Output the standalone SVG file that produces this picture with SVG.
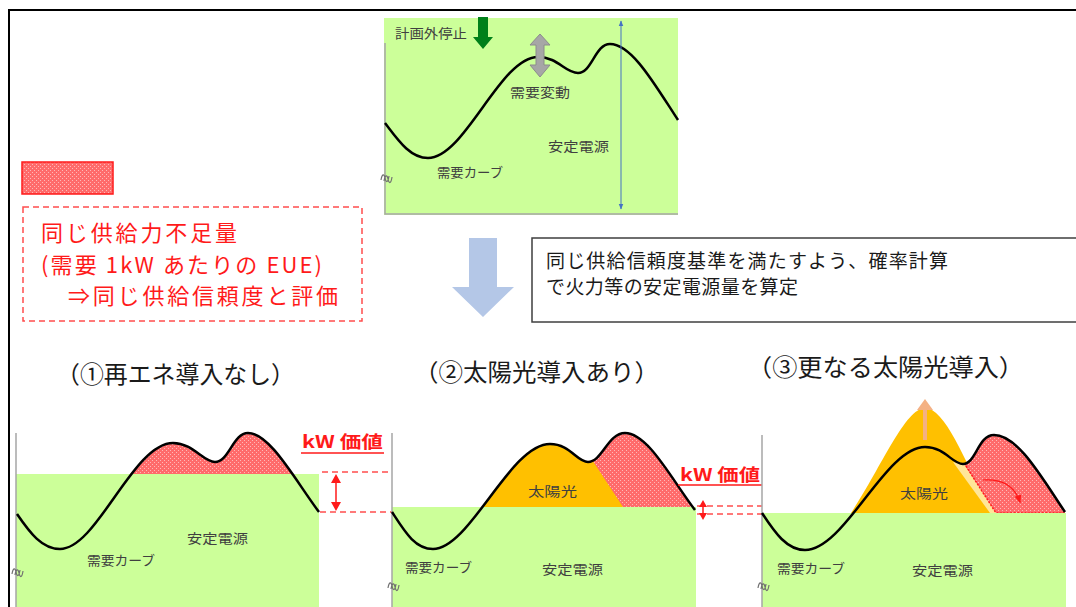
<svg xmlns="http://www.w3.org/2000/svg" width="1076" height="607" viewBox="0 0 1076 607">
<style>
.lab{font-family:"Noto Sans CJK JP",sans-serif;font-size:13px;fill:#404040}
.red{font-family:"Noto Sans CJK JP",sans-serif;font-size:22px;fill:#ff1a1a}
.kw{font-family:"Noto Sans CJK JP",sans-serif;font-size:17px;font-weight:bold;fill:#ff1a1a}
.title{font-family:"Noto Sans CJK JP",sans-serif;font-size:24px;fill:#1a1a1a}
.box{font-family:"Noto Sans CJK JP",sans-serif;font-size:19px;fill:#1a1a1a}
.green{fill:#ccff99}
.curve{fill:none;stroke:#000;stroke-width:2.5}
.axis{stroke:#a6a6a6;stroke-width:1.5;fill:none}
.dash{stroke:#ff4d4d;stroke-width:1.5;stroke-dasharray:6 4;fill:none}
.sq{fill:none;stroke:#707070;stroke-width:1.2}
</style>
<defs>
<pattern id="hatch" width="4" height="4" patternUnits="userSpaceOnUse">
<rect width="4" height="4" fill="#ff6b6b"/>
<rect x="0" y="0" width="1" height="1" fill="#ffb8b8"/>
<rect x="2" y="2" width="1" height="1" fill="#ffb8b8"/>
</pattern>
<clipPath id="c1"><path d="M17,514 C30,533 42,549 60,549 C97,549 133,443 173,443 C193,443 203,462 215,462 C229,462 233,433 248,433 C270,433 295,480 319,512 L319,607 L17,607 Z"/></clipPath>
<clipPath id="c2"><path d="M392,512 C405,532 415,549 433,549 C470,549 510,444 550,444 C570,444 577,462 588,462 C602,462 608,433 625,433 C648,433 672,480 695,510 L695,607 L392,607 Z"/></clipPath>
<clipPath id="c3"><path d="M762,513 C775,533 787,550 805,550 C845,550 885,447 925,447 C945,447 952,464 963,464 C976,464 978,435 994,435 C1018,435 1042,478 1065,512 L1065,607 L762,607 Z"/></clipPath>
<marker id="bh" viewBox="0 0 10 10" refX="9" refY="5" markerWidth="6" markerHeight="6" orient="auto-start-reverse"><path d="M0,1 L10,5 L0,9 Z" fill="#4472c4"/></marker>
<marker id="rh" viewBox="0 0 10 10" refX="8" refY="5" markerWidth="7" markerHeight="7" orient="auto"><path d="M0,1 L10,5 L0,9 Z" fill="#ff1a1a"/></marker>
</defs>

<g id="frame">
<path d="M9,607 L9,10 L1076,10" fill="none" stroke="#000" stroke-width="2"/>
</g>

<g id="top-panel">
<rect class="green" x="384" y="18" width="294" height="197"/>
<path class="axis" d="M385,43 L385,214 L678,214"/>
<path class="curve" d="M385,123 C398,140 410,158 428,158 C465,158 500,57 538,57 C558,57 565,73 578,73 C592,73 595,44 610,44 C632,44 655,85 678,120"/>
<text class="lab" x="395" y="38" textLength="72" lengthAdjust="spacingAndGlyphs">計画外停止</text>
<path d="M478,17 L488,17 L488,37 L493,37 L483,49 L473,37 L478,37 Z" fill="#00801a"/>
<path d="M540,34 L550,45 L544,45 L544,65 L550,65 L540,77 L530,65 L536,65 L536,45 L530,45 Z" fill="#a6a6a6" stroke="#8c8c8c" stroke-width="1"/>
<text class="lab" x="510" y="97" textLength="60" lengthAdjust="spacingAndGlyphs">需要変動</text>
<text class="lab" x="548" y="151" textLength="61" lengthAdjust="spacingAndGlyphs">安定電源</text>
<text class="lab" x="437" y="177" textLength="66" lengthAdjust="spacingAndGlyphs">需要カーブ</text>
<line x1="621" y1="21" x2="621" y2="209" stroke="#4472c4" stroke-width="1" marker-start="url(#bh)" marker-end="url(#bh)"/>
<path class="sq" d="M381,180 c1,-6 3,-7 4,-2 c1,5 3,5 4,-2 M384,181 c1,-6 3,-7 4,-2 c1,5 3,5 4,-2"/>
</g>

<g id="legend">
<rect x="22" y="162" width="91" height="32" fill="url(#hatch)" stroke="#ff1a1a" stroke-width="1.5"/>
<rect x="23" y="207" width="339" height="114" fill="none" stroke="#ff4d4d" stroke-width="1.5" stroke-dasharray="6 4"/>
<text class="red" x="41" y="241" textLength="196" lengthAdjust="spacing">同じ供給力不足量</text>
<text class="red" x="41" y="273" textLength="281" lengthAdjust="spacing">(需要 1kW あたりの EUE)</text>
<text class="red" x="68" y="304" textLength="270" lengthAdjust="spacing">⇒同じ供給信頼度と評価</text>
</g>

<g id="note">
<rect x="532" y="238" width="560" height="84" fill="#fff" stroke="#3f3f3f" stroke-width="1.5"/>
<text class="box" x="546" y="268" textLength="402" lengthAdjust="spacing">同じ供給信頼度基準を満たすよう、確率計算</text>
<text class="box" x="546" y="294" textLength="252" lengthAdjust="spacing">で火力等の安定電源量を算定</text>
</g>

<g id="titles">
<text class="title" x="56" y="383" textLength="239" lengthAdjust="spacingAndGlyphs">（①再エネ導入なし）</text>
<text class="title" x="414" y="381" textLength="245" lengthAdjust="spacingAndGlyphs">（②太陽光導入あり）</text>
<text class="title" x="747" y="376" textLength="277" lengthAdjust="spacingAndGlyphs">（③更なる太陽光導入）</text>
</g>

<g id="panel1">
<rect x="100" y="420" width="240" height="54" fill="url(#hatch)" clip-path="url(#c1)"/>
<rect class="green" x="16" y="474" width="303" height="133"/>
<line class="axis" x1="16" y1="433" x2="16" y2="607"/>
<path class="curve" d="M17,514 C30,533 42,549 60,549 C97,549 133,443 173,443 C193,443 203,462 215,462 C229,462 233,433 248,433 C270,433 295,480 319,512"/>
<text class="lab" x="187" y="543" textLength="61" lengthAdjust="spacingAndGlyphs">安定電源</text>
<text class="lab" x="87" y="565" textLength="68" lengthAdjust="spacingAndGlyphs">需要カーブ</text>
<path class="sq" d="M12,574 c1,-6 3,-7 4,-2 c1,5 3,5 4,-2 M15,575 c1,-6 3,-7 4,-2 c1,5 3,5 4,-2"/>
<text class="kw" x="302" y="448" textLength="81" lengthAdjust="spacingAndGlyphs">kW 価値</text>
<line x1="301" y1="453" x2="384" y2="453" stroke="#ff1a1a" stroke-width="1.5"/>
<line class="dash" x1="322" y1="472" x2="392" y2="472"/>
<line class="dash" x1="320" y1="512" x2="392" y2="512"/>
<line x1="336" y1="480" x2="336" y2="505" stroke="#ff1a1a" stroke-width="1.5"/>
<path d="M331,483 L336,474 L341,483 Z M331,502 L336,511 L341,502 Z" fill="#ff1a1a"/>
</g>

<g id="panel2">
<rect x="470" y="420" width="240" height="87" fill="url(#hatch)" clip-path="url(#c2)"/>
<path d="M470,420 L566,420 L623,507 L470,507 Z" fill="#ffc000" clip-path="url(#c2)"/>
<rect class="green" x="392" y="507" width="304" height="100"/>
<line class="axis" x1="392" y1="433" x2="392" y2="607"/>
<path class="curve" d="M392,512 C405,532 415,549 433,549 C470,549 510,444 550,444 C570,444 577,462 588,462 C602,462 608,433 625,433 C648,433 672,480 695,510"/>
<text class="lab" x="528" y="496" textLength="49" lengthAdjust="spacingAndGlyphs">太陽光</text>
<text class="lab" x="405" y="572" textLength="67" lengthAdjust="spacingAndGlyphs">需要カーブ</text>
<text class="lab" x="542" y="574" textLength="61" lengthAdjust="spacingAndGlyphs">安定電源</text>
<path class="sq" d="M388,588 c1,-6 3,-7 4,-2 c1,5 3,5 4,-2 M391,589 c1,-6 3,-7 4,-2 c1,5 3,5 4,-2"/>
<text class="kw" x="680" y="481" textLength="80" lengthAdjust="spacingAndGlyphs">kW 価値</text>
<line x1="678" y1="485" x2="762" y2="485" stroke="#ff1a1a" stroke-width="1.5"/>
<line class="dash" x1="697" y1="506" x2="762" y2="506"/>
<line class="dash" x1="697" y1="514" x2="762" y2="514"/>
<path d="M699,507 L703,500 L707,507 Z M699,513 L703,520 L707,513 Z" fill="#ff1a1a"/>
<line x1="703" y1="506" x2="703" y2="514" stroke="#ff1a1a" stroke-width="1.5"/>
</g>

<g id="panel3">
<path d="M851,513 C880,470 905,408 925,408 C945,408 965,460 991,513 Z" fill="#ffc000"/>
<path d="M953,462 L966,465 L997,513 L990,513 Z" fill="#ffe699" clip-path="url(#c3)"/>
<path d="M935,420 L1080,420 L1080,513 L996,513 Z" fill="url(#hatch)" clip-path="url(#c3)"/>
<path d="M966,466 L996,513 L1065,513" fill="none" stroke="#ff1a1a" stroke-width="1.5" stroke-dasharray="2 1.5"/>
<rect class="green" x="762" y="513" width="304" height="94"/>
<line class="axis" x1="762" y1="435" x2="762" y2="607"/>
<path class="curve" d="M762,513 C775,533 787,550 805,550 C845,550 885,447 925,447 C945,447 952,464 963,464 C976,464 978,435 994,435 C1018,435 1042,478 1065,512"/>
<line x1="925" y1="440" x2="925" y2="408" stroke="#f4b183" stroke-width="4"/>
<path d="M917,410 L925,399 L933,410 Z" fill="#f4b183"/>
<path d="M983,480 Q1012,478 1020,502" fill="none" stroke="#ff1a1a" stroke-width="1.2" marker-end="url(#rh)"/>
<text class="lab" x="900" y="498" textLength="48" lengthAdjust="spacingAndGlyphs">太陽光</text>
<text class="lab" x="777" y="573" textLength="68" lengthAdjust="spacingAndGlyphs">需要カーブ</text>
<text class="lab" x="912" y="575" textLength="61" lengthAdjust="spacingAndGlyphs">安定電源</text>
<path class="sq" d="M758,588 c1,-6 3,-7 4,-2 c1,5 3,5 4,-2 M761,589 c1,-6 3,-7 4,-2 c1,5 3,5 4,-2"/>
</g>

<g id="connectors">
<path d="M469,238 L497,238 L497,287 L514,287 L483,317 L452,287 L469,287 Z" fill="#b4c7e7"/>
</g>
</svg>
